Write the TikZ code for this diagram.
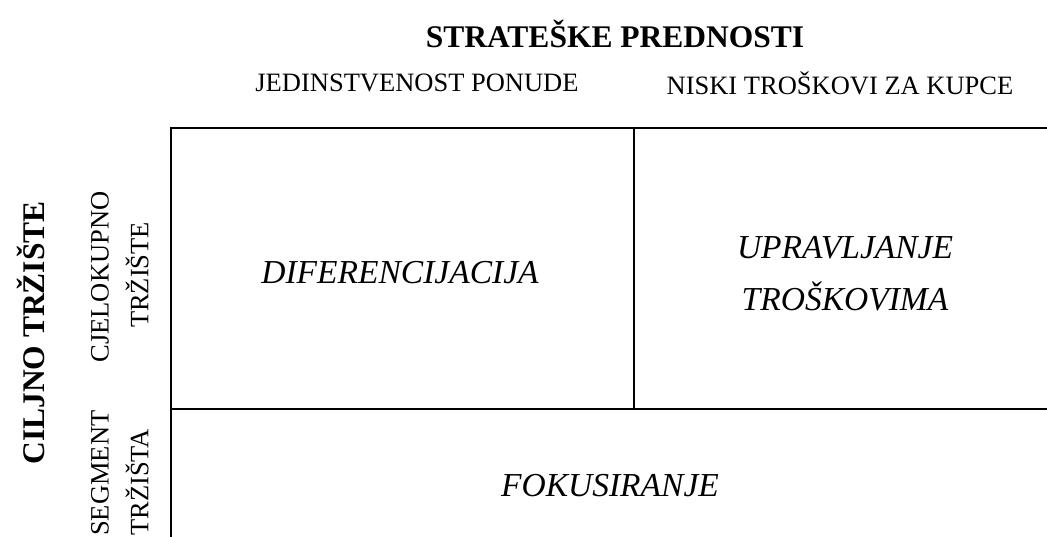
\documentclass[tikz,border=0pt]{standalone}
\usepackage{fontspec}
\setmainfont{Liberation Serif}
\begin{document}
\begin{tikzpicture}[x=1pt,y=-1pt,
  gridline/.style={line width=2.3pt,line cap=rect},
  headtxt/.style={font=\fontsize{31.5}{36}\selectfont\bfseries,inner sep=0pt,anchor=center},
  labtxt/.style={font=\fontsize{26.5}{30}\selectfont,inner sep=0pt,anchor=center},
  celltxt/.style={font=\fontsize{33.5}{52}\selectfont\itshape,inner sep=0pt,anchor=center,align=center}]
\useasboundingbox (0,0) rectangle (1047,537);
% grid corners
\coordinate (tl) at (171,128);
\coordinate (tr) at (1047,128);
\coordinate (tm) at (634,128);
\coordinate (mm) at (634,409);
\coordinate (ml) at (171,409);
\coordinate (mr) at (1047,409);
\coordinate (bl) at (171,540);
\draw[gridline] (tr) -- (tl) -- (bl);
\draw[gridline] (tm) -- (mm);
\draw[gridline] (ml) -- (mr);
% headings
\node[headtxt] (title) at (615,34) {STRATEŠKE PREDNOSTI};
\node[labtxt] (col1) at (417,83) {JEDINSTVENOST PONUDE};
\node[labtxt] (col2) at (840,83) {NISKI TROŠKOVI ZA KUPCE};
\node[headtxt,rotate=90] (side) at (31,333) {CILJNO TRŽIŠTE};
\node[labtxt,rotate=90] (row1a) at (100,277) {CJELOKUPNO};
\node[labtxt,rotate=90] (row1b) at (137,275) {TRŽIŠTE};
\node[labtxt,rotate=90,anchor=west] (row2a) at (100,536) {SEGMENT};
\node[labtxt,rotate=90,anchor=west] (row2b) at (137,536) {TRŽIŠTA};
% cells
\node[celltxt] (c1) at (400,273) {DIFERENCIJACIJA};
\node[celltxt] (c2) at (845,274) {UPRAVLJANJE\\TROŠKOVIMA};
\node[celltxt] (c3) at (610,486) {FOKUSIRANJE};
\end{tikzpicture}
\end{document}
